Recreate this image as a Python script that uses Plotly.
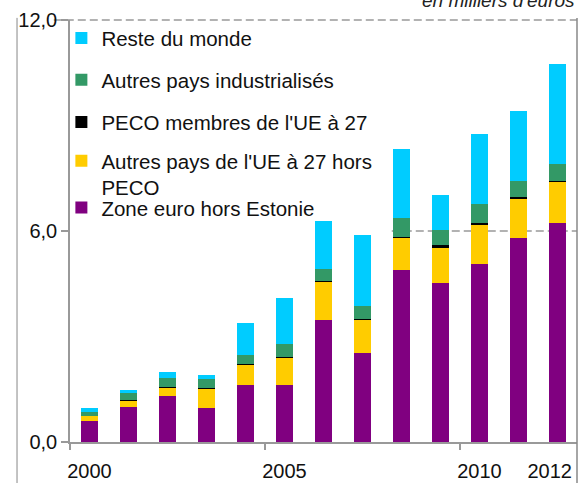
import plotly.graph_objects as go

years = [2000, 2001, 2002, 2003, 2004, 2005, 2006, 2007, 2008, 2009, 2010, 2011, 2012]

zone_euro = [0.60, 0.99, 1.30, 0.96, 1.63, 1.61, 3.48, 2.54, 4.88, 4.51, 5.05, 5.81, 6.24]
autres_ue = [0.14, 0.20, 0.26, 0.57, 0.57, 0.79, 1.08, 0.94, 0.94, 1.02, 1.13, 1.11, 1.16]
peco_ue = [0.005, 0.005, 0.005, 0.005, 0.005, 0.005, 0.03, 0.03, 0.005, 0.06, 0.06, 0.06, 0.03]
autres_indus = [0.11, 0.20, 0.26, 0.26, 0.28, 0.37, 0.34, 0.37, 0.54, 0.45, 0.54, 0.45, 0.48]
reste_monde = [0.11, 0.085, 0.17, 0.11, 0.91, 1.33, 1.36, 2.01, 1.98, 0.99, 1.98, 1.98, 2.83]

series = [
    ("Zone euro hors Estonie", zone_euro, "#800080", "legend5"),
    ("Autres pays de l'UE à 27 hors<br>PECO", autres_ue, "#FFCC00", "legend4"),
    ("PECO membres de l'UE à 27", peco_ue, "#000000", "legend3"),
    ("Autres pays industrialisés", autres_indus, "#339966", "legend2"),
    ("Reste du monde", reste_monde, "#00CCFF", "legend"),
]

y_ticks = [0, 6, 12]
y_tick_text = ["0,0", "6,0", "12,0"]
x_tick_vals = [2000, 2005, 2010, 2011.8]
x_tick_text = ["2000", "2005", "2010", "2012"]

FONT = "Liberation Sans, Arial, sans-serif"
GRAY = "#999999"

fig = go.Figure()
for name, vals, color, leg in series:
    fig.add_trace(go.Bar(
        x=years, y=vals, name=name, width=0.43,
        marker=dict(color=color, line=dict(width=0)),
        legend=leg, hoverinfo="skip",
    ))

leg_common = dict(x=-0.017, xanchor="left", yanchor="middle", bgcolor="rgba(0,0,0,0)",
                  borderwidth=0, font=dict(family=FONT, size=20.5, color="#111111"),
                  itemwidth=30, itemclick=False)

fig.update_layout(
    template="none",
    width=582, height=483, autosize=False,
    margin=dict(l=70, r=5, t=20, b=41, autoexpand=False),
    paper_bgcolor="white", plot_bgcolor="white",
    barmode="stack",
    font=dict(family=FONT, size=20, color="#111111"),
    showlegend=True,
    legend=dict(y=0.957, **leg_common),
    legend2=dict(y=0.858, **leg_common),
    legend3=dict(y=0.758, **leg_common),
    legend4=dict(y=0.634, valign="top", **leg_common),
    legend5=dict(y=0.555, **leg_common),
    xaxis=dict(
        range=[1999.5, 2012.5], tickvals=x_tick_vals, ticktext=x_tick_text,
        ticks="", showgrid=False, zeroline=False, automargin=False,
        showline=True, linecolor=GRAY, linewidth=1.5,
        ticklabelstandoff=10,
        minor=dict(tick0=1999.5, dtick=5, ticks="outside", ticklen=6,
                   tickcolor=GRAY, tickwidth=1.5, showgrid=False),
        tickfont=dict(family=FONT, size=20, color="#111111"),
    ),
    yaxis=dict(
        range=[0, 12], tickvals=y_ticks, ticktext=y_tick_text,
        ticks="outside", ticklen=7, tickcolor=GRAY, tickwidth=1.5,
        showgrid=False, zeroline=False, automargin=False,
        showline=True, linecolor=GRAY, linewidth=1.5,
        tickfont=dict(family=FONT, size=20, color="#111111"),
    ),
)

# dashed reference lines (top border at 12 and partial line at 6)
fig.add_shape(type="line", xref="paper", yref="paper", x0=-0.032, x1=1, y0=1, y1=1,
              line=dict(color=GRAY, width=1.5, dash="8px,4px"), layer="below")
fig.add_shape(type="line", xref="x", yref="y", x0=2007.75, x1=2012.5, y0=6, y1=6,
              line=dict(color=GRAY, width=1.5, dash="8px,4px"), layer="below")
# outer frame lines
fig.add_shape(type="line", xref="paper", yref="paper", x0=-0.1045, x1=-0.1045, y0=1.005, y1=-0.11,
              line=dict(color="#888888", width=1))
fig.add_shape(type="line", xref="paper", yref="paper", x0=1, x1=1, y0=1.005, y1=-0.11,
              line=dict(color="#888888", width=1.5))

fig.add_annotation(text="<i>en milliers d'euros</i>", xref="paper", yref="paper",
                   x=1, y=1.047, xanchor="right", yanchor="middle", showarrow=False,
                   font=dict(family=FONT, size=19, color="#222222"))

fig.write_html("out.html", config={"displayModeBar": False},
               post_script="document.body.style.margin='0';document.body.style.overflow='hidden';")
